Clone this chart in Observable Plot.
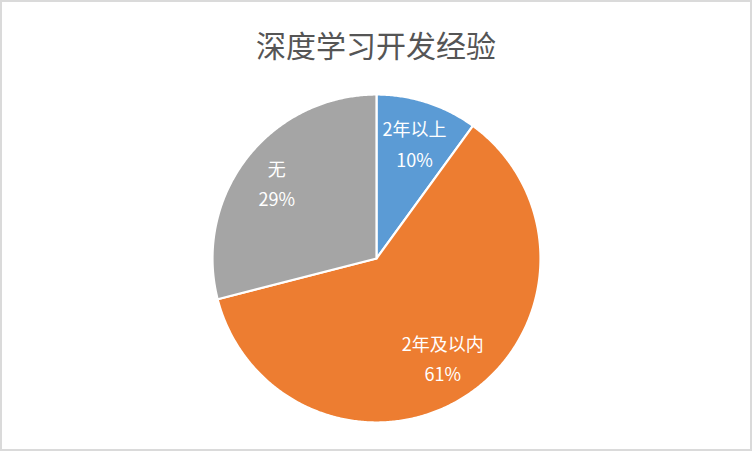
<!DOCTYPE html>
<html>
<head>
<meta charset="utf-8">
<script src="https://cdn.jsdelivr.net/npm/d3@7"></script>
<script src="https://cdn.jsdelivr.net/npm/@observablehq/plot@0.6"></script>
<style>
  html, body { margin: 0; padding: 0; background: #fff; }
  #frame {
    position: relative; width: 752px; height: 451px; box-sizing: border-box;
    border: 2px solid #dadada; background: #fff; overflow: hidden;
  }
  #title {
    position: absolute; left: 0; right: 0; top: 27px; text-align: center;
    font-family: "Noto Sans CJK SC", sans-serif; font-size: 30px; line-height: 30px;
    color: #555555;
  }
  #chart { position: absolute; left: 0; top: 0; }
</style>
</head>
<body>
<div id="frame">
  <div id="chart"></div>
  <div id="title">深度学习开发经验</div>
</div>
<script>
const titleText = "深度学习开发经验";
const categories = ["2年以上", "2年及以内", "无"];
const values = [10, 61, 29];
const percentLabels = ["10%", "61%", "29%"];
const colors = ["#5B9BD5", "#ED7D31", "#A5A5A5"];

const total = d3.sum(values);
const slices = [];
let acc = 0;
categories.forEach((c, i) => {
  const a0 = acc / total * 2 * Math.PI;
  acc += values[i];
  const a1 = acc / total * 2 * Math.PI;
  slices.push({category: c, value: values[i], label: percentLabels[i], a0, a1});
});

// polygon outline points of each slice in unit-circle data space
const outline = [];
for (const s of slices) {
  outline.push({category: s.category, x: 0, y: 0});
  const n = Math.max(2, Math.ceil((s.a1 - s.a0) / (Math.PI / 360)));
  for (let k = 0; k <= n; k++) {
    const a = s.a0 + (s.a1 - s.a0) * k / n;
    outline.push({category: s.category, x: Math.sin(a), y: Math.cos(a)});
  }
}

const labelR = [0.75, 0.72, 0.77];
const labelData = slices.map((s, i) => {
  const m = (s.a0 + s.a1) / 2;
  return {text: s.category + "\n" + s.label, x: labelR[i] * Math.sin(m), y: labelR[i] * Math.cos(m)};
});

const W = 748, H = 447;
const plot = Plot.plot({
  width: W,
  height: H,
  marginLeft: 210,
  marginRight: 210,
  marginTop: 92,
  marginBottom: 27,
  x: {domain: [-1, 1], axis: null},
  y: {domain: [-1, 1], axis: null},
  color: {domain: categories, range: colors},
  style: {background: "transparent", fontFamily: "'Noto Sans CJK SC', sans-serif"},
  marks: [
    Plot.line(outline, {
      x: "x", y: "y", z: "category", fill: "category",
      stroke: "white", strokeWidth: 2.2, strokeLinejoin: "round",
      curve: "linear-closed"
    }),
    Plot.text(labelData, {
      x: "x", y: "y", text: "text", fill: "white",
      fontSize: 18, lineHeight: 1.7, lineAnchor: "middle", textAnchor: "middle"
    })
  ]
});
document.getElementById("chart").appendChild(plot);
</script>
</body>
</html>
